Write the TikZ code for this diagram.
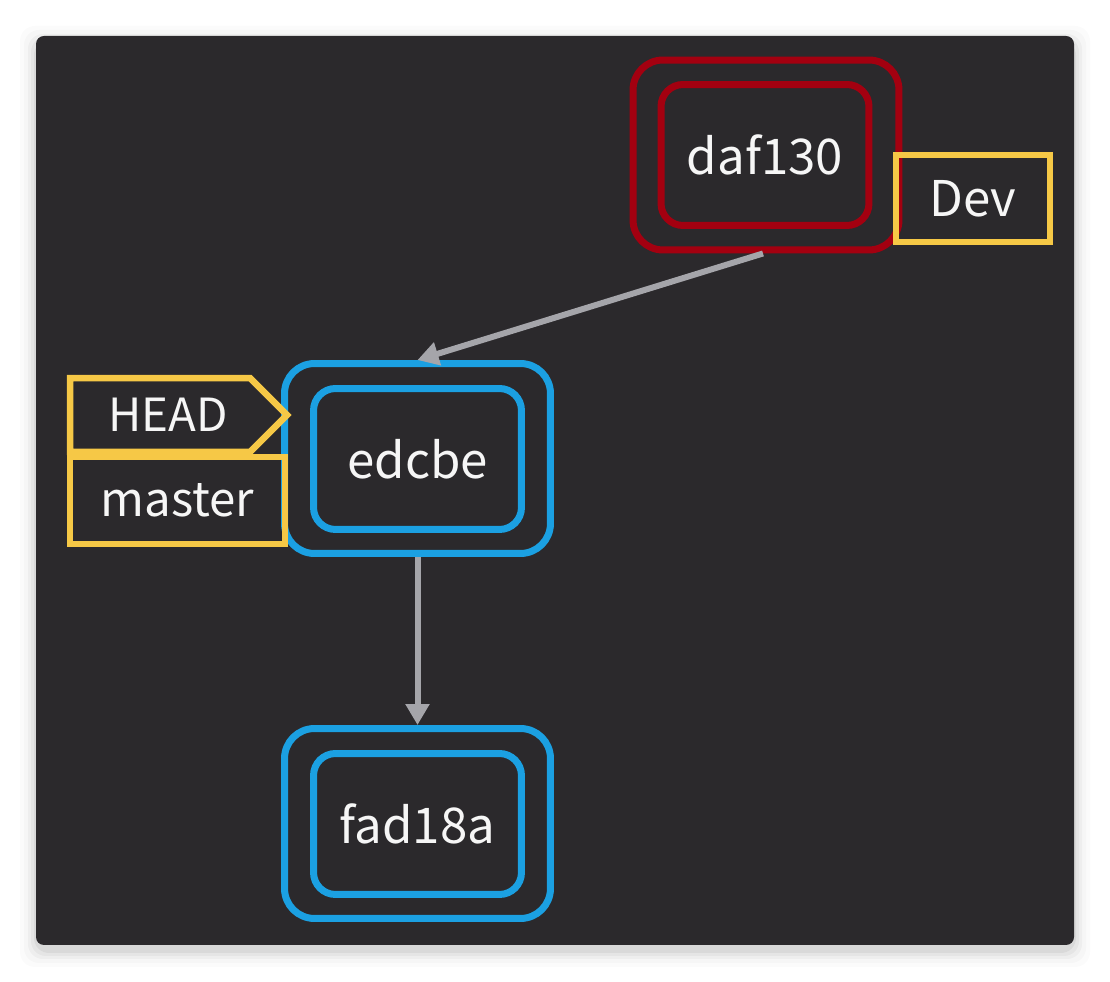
\documentclass[tikz,border=0pt]{standalone}
\usepackage{fontspec}
\setmainfont{Noto Sans CJK SC}
\usetikzlibrary{shapes.symbols, arrows.meta, positioning}
\definecolor{panelgray}{RGB}{43,41,44}
\definecolor{devred}{RGB}{163,0,16}
\definecolor{commitblue}{RGB}{27,160,226}
\definecolor{refyellow}{RGB}{246,200,70}
\definecolor{linkgray}{RGB}{165,165,170}
\definecolor{textwhite}{RGB}{246,246,246}

\begin{document}
\begin{tikzpicture}[
  x=0.02cm, y=-0.02cm,
  every node/.style={font=\fontsize{28}{32}\selectfont, text=textwhite},
  ring/.style={draw, line width=0.14cm, rounded corners=0.6cm, minimum width=5.32cm, minimum height=3.8cm, inner sep=0pt},
  commit/.style={draw, line width=0.14cm, rounded corners=0.44cm, minimum width=4.16cm, minimum height=2.82cm, inner sep=0pt},
  ref/.style={draw=refyellow, line width=0.13cm, minimum width=4.3cm, minimum height=1.74cm, inner sep=0pt},
  link/.style={-{Triangle[length=0.42cm, width=0.46cm]}, linkgray, line width=0.12cm}
]
\useasboundingbox (0,0) rectangle (1110,982);

% Panel with soft shadow
\foreach \s/\o in {16/0.015, 12/0.02, 8/0.03, 5/0.04, 2/0.05}
  \fill[black, opacity=\o, rounded corners=0.3cm] (36-\s,36-\s+6) rectangle (1074+\s,945+\s+6);
\fill[panelgray, rounded corners=0.16cm] (36,36) rectangle (1074,945);

% Commits
\node[ring, draw=devred] (daf) at (766,155) {};
\node[commit, draw=devred] (daftext) at (765,155) {daf130};

\node[ring, draw=commitblue] (edc) at (417.5,458.5) {};
\node[commit, draw=commitblue] (edctext) at (417.5,459) {edcbe};

\node[ring, draw=commitblue] (fad) at (417.5,823.5) {};
\node[commit, draw=commitblue] (fadtext) at (417.5,824) {fad18a};

% Refs
\node[ref, minimum width=3.08cm] (dev) at (973,198.5) {Dev};
\node[ref, font=\fontsize{27}{32}\selectfont] (master) at (177.5,500.5) {master};
\node[draw=refyellow, line width=0.13cm, signal, signal to=east, signal pointer angle=90,
      minimum width=4.34cm, minimum height=1.48cm, inner sep=0pt,
      font=\fontsize{26}{30}\selectfont] (head) at (160,415) {\hspace{0.32cm}HEAD};

% Parent links
\draw[link] (daf.south) ++(-3,0) coordinate (dafout) (dafout) -- (edc.north);
\draw[link] (edc.south) -- (fad.north);

\end{tikzpicture}
\end{document}
